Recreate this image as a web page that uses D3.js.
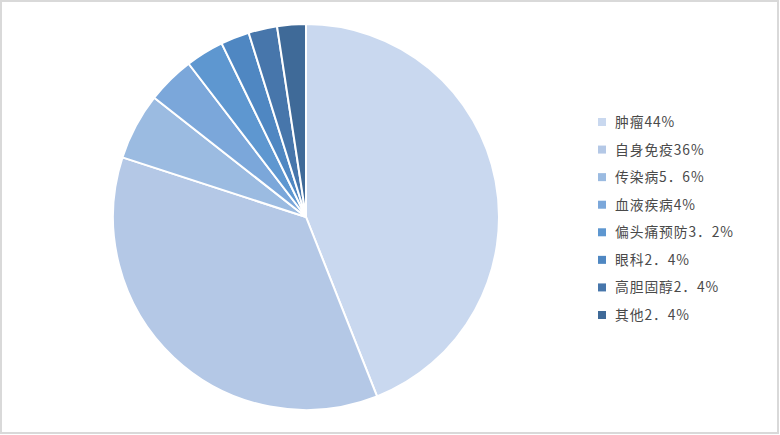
<!DOCTYPE html>
<html><head><meta charset="utf-8">
<script src="https://cdn.jsdelivr.net/npm/d3@7"></script>
<style>html,body{margin:0;padding:0;background:#fff;}svg{display:block;}</style>
</head><body>
<svg id="c" width="780" height="435"></svg>
<script>
const categories = ["肿瘤","自身免疫","传染病","血液疾病","偏头痛预防","眼科","高胆固醇","其他"];
const values = [44, 36, 5.6, 4, 3.2, 2.4, 2.4, 2.4];
const labels = ["44%","36%","5．6%","4%","3．2%","2．4%","2．4%","2．4%"];
const colors = ["#c9d8ef","#b4c8e6","#9bbbe1","#7ba7da","#5e97d0","#4f87c2","#4776ab","#3f6a98"];

const svg = d3.select("#c");
svg.append("rect").attr("x",1).attr("y",1).attr("width",777).attr("height",432)
  .attr("fill","#fff").attr("stroke","#d9d9d9").attr("stroke-width",2);

const cx = 306, cy = 217, r = 193;
const pie = d3.pie().sort(null).value(d=>d);
const arc = d3.arc().innerRadius(0).outerRadius(r);
const g = svg.append("g").attr("transform",`translate(${cx},${cy})`);
g.selectAll("path").data(pie(values)).join("path")
  .attr("d",arc).attr("fill",(d,i)=>colors[i])
  .attr("stroke","#fff").attr("stroke-width",2).attr("stroke-linejoin","round");

const y = d3.scalePoint().domain(d3.range(categories.length)).range([122,315]);
const lg = svg.append("g");
categories.forEach((c,i)=>{
  lg.append("rect").attr("x",598).attr("y",y(i)-4).attr("width",8).attr("height",8).attr("fill",colors[i]);
  lg.append("text").attr("x",615).attr("y",y(i)).attr("dy","0.36em")
    .attr("font-family","'Noto Sans CJK SC','Liberation Sans',sans-serif").attr("font-size",13.8)
    .attr("letter-spacing",0.9)
    .attr("fill","#4a4a4a").text(c+labels[i]);
});
</script>
</body></html>
